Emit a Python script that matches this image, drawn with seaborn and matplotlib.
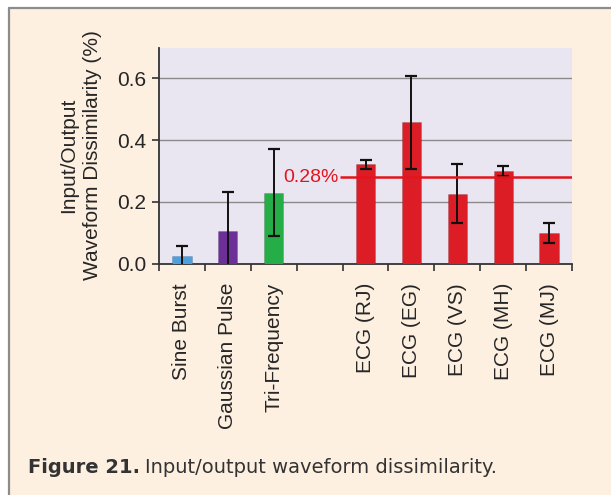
import numpy as np
import pandas as pd
import matplotlib
matplotlib.use("Agg")
import matplotlib.pyplot as plt
from matplotlib.patches import Rectangle
from matplotlib.lines import Line2D
import seaborn as sns

# Test signals and recorded ECG subjects (an empty slot separates the two groups)
categories = ["Sine Burst", "Gaussian Pulse", "Tri-Frequency", "",
              "ECG (RJ)", "ECG (EG)", "ECG (VS)", "ECG (MH)", "ECG (MJ)"]
dissimilarity = [0.025, 0.105, 0.230, np.nan, 0.321, 0.457, 0.226, 0.299, 0.099]
error = [0.032, 0.127, 0.140, np.nan, 0.016, 0.150, 0.096, 0.017, 0.032]
ecg_mean = 0.28
yticks = [0.0, 0.2, 0.4, 0.6]

bar_colors = {"Sine Burst": "#4e9fde", "Gaussian Pulse": "#6b2f97",
              "Tri-Frequency": "#25ad48", "": "#ffffff",
              "ECG (RJ)": "#dc1d26", "ECG (EG)": "#dc1d26", "ECG (VS)": "#dc1d26",
              "ECG (MH)": "#dc1d26", "ECG (MJ)": "#dc1d26"}

df = pd.DataFrame({"signal": categories, "value": dissimilarity, "err": error})

sns.set_theme(style="white")
plot_font = ["Liberation Sans", "DejaVu Sans"]
plt.rcParams["font.family"] = plot_font

W, H = 611, 495
fig = plt.figure(figsize=(W / 100, H / 100), dpi=100, facecolor="white")

# Cream panel with grey frame on top and left
fig.patches.append(Rectangle((8.5 / W, 0), 1, 1 - 7.5 / H, transform=fig.transFigure,
                             facecolor="#fdf0e1", edgecolor="none", zorder=-2))
fig.lines.append(Line2D([8.5 / W, 1], [1 - 7.5 / H, 1 - 7.5 / H], transform=fig.transFigure,
                        color="#8c8c8c", lw=1.6, zorder=-1))
fig.lines.append(Line2D([8.5 / W, 8.5 / W], [0, 1 - 7.5 / H], transform=fig.transFigure,
                        color="#8c8c8c", lw=1.6, zorder=-1))

left, right = 159 / W, 572 / W
bottom, top = 1 - 263.5 / H, 1 - 47.5 / H
ax = fig.add_axes([left, bottom, right - left, top - bottom])
ax.set_facecolor("#e9e6f1")

sns.barplot(data=df, x="signal", y="value", hue="signal", palette=bar_colors,
            order=categories, errorbar=None, width=0.42, legend=False, ax=ax,
            saturation=1, edgecolor="#00000026", linewidth=0.6, zorder=3)

x = np.arange(len(categories))
ax.errorbar(x, df["value"], yerr=df["err"], fmt="none", ecolor="#111111",
            elinewidth=1.4, capsize=4.5, capthick=1.6, zorder=4)

ax.set_ylim(0, 0.7)
ax.set_xlim(-0.5, len(categories) - 0.5)

# Reference level for the ECG recordings
ax.hlines(ecg_mean, 3.45, len(categories) - 0.5, color="#e3141d", lw=1.8, zorder=5)
ax.text(3.42, ecg_mean, f"{ecg_mean:.2f}%", color="#e3141d", fontsize=14,
        family=plot_font, ha="right", va="center", zorder=5)

ax.set_yticks(yticks)
ax.set_yticklabels([f"{v:.1f}" for v in yticks], family=plot_font)
for v in yticks[1:]:
    ax.axhline(v, color="#8a8a8a", lw=1.0, zorder=1)

# Ticks at slot boundaries, labels at slot centres
ax.set_xticks(np.arange(len(categories) + 1) - 0.5)
ax.set_xticklabels([])
ax.set_xticks(x, categories, minor=True, family=plot_font)
ax.tick_params(axis="x", which="major", direction="out", length=5, width=1.2,
               color="#333333", bottom=True)
ax.tick_params(axis="x", which="minor", length=0, pad=14, labelsize=15,
               labelrotation=90, labelcolor="#262626")
ax.tick_params(axis="y", direction="out", length=5, width=1.2, color="#333333",
               left=True, pad=4, labelsize=15, labelcolor="#262626")
for lab in ax.get_xticklabels(minor=True):
    lab.set_va("top")
    lab.set_ha("center")

ax.set_xlabel("")
ax.set_ylabel("Input/Output\nWaveform Dissimilarity (%)", fontsize=15,
              family=plot_font, color="#262626", linespacing=1.35, labelpad=11)

for side in ["top", "right"]:
    ax.spines[side].set_visible(False)
for side in ["left", "bottom"]:
    ax.spines[side].set_color("#333333")
    ax.spines[side].set_linewidth(1.3)

# Caption: bold figure number followed by the regular description
cap_font = ["DejaVu Sans"]
head = fig.text(28 / W, 1 - 473 / H, "Figure 21.", fontsize=14, fontweight="bold",
                family=cap_font, color="#333333", ha="left", va="baseline")
renderer = fig.canvas.get_renderer()
head_end = head.get_window_extent(renderer).x1
fig.text((head_end + 5) / W, 1 - 473 / H, "Input/output waveform dissimilarity.",
         fontsize=14, family=cap_font, color="#333333", ha="left", va="baseline")

fig.savefig("out.png", dpi=100, facecolor=fig.get_facecolor())
